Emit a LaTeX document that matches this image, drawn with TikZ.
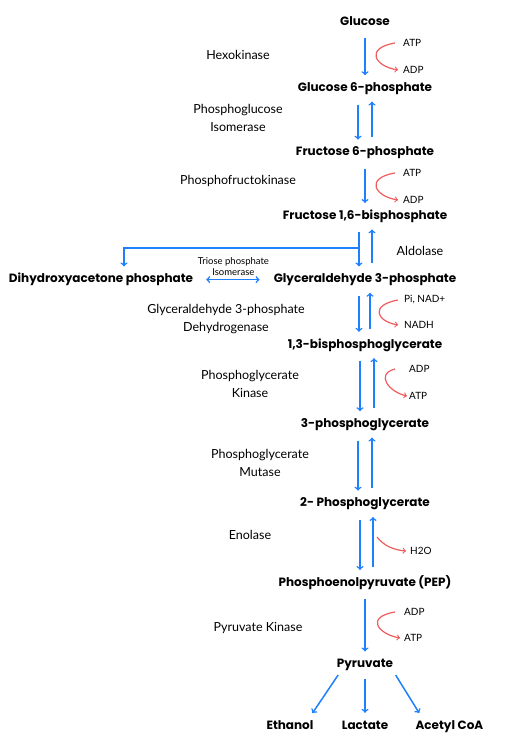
\documentclass[tikz,border=0pt]{standalone}
\usepackage{fontspec}
\setmainfont{Lato}
\newfontfamily\cmpdfont{Poppins}
\usepackage{xcolor}
\usetikzlibrary{positioning,arrows}

\definecolor{flowblue}{RGB}{30,128,255}
\definecolor{cofred}{RGB}{238,92,92}

\begin{document}
\begin{tikzpicture}[
    x=1pt, y=-1pt,
    cmpd/.style={inner sep=0pt, text height=9pt, text depth=3pt, font=\cmpdfont\bfseries\fontsize{12}{14}\selectfont},
    enz/.style={align=center, inner sep=0pt, font=\fontsize{12.5}{17.5}\selectfont},
    cof/.style={anchor=west, inner sep=0pt, font=\fontsize{10}{12}\selectfont},
    flow/.style={->, draw=flowblue, line width=1.5pt, shorten <=10pt, shorten >=7pt},
    cofarr/.style={->, draw=cofred, line width=1.2pt}
]
\useasboundingbox (0,0) rectangle (506,737);

% Main chain, top to bottom
\node[cmpd] (glucose) at (365,22) {Glucose};
\node[cmpd, below=54pt of glucose] (g6p) {Glucose 6-phosphate};
\node[cmpd, below=52pt of g6p] (f6p) {Fructose 6-phosphate};
\node[cmpd, below=51pt of f6p] (f16bp) {Fructose 1,6-bisphosphate};
\node[cmpd, below=51pt of f16bp] (g3p) {Glyceraldehyde 3-phosphate};
\node[cmpd, below=53pt of g3p] (bpg) {1,3-bisphosphoglycerate};
\node[cmpd, below=67pt of bpg] (pg3) {3-phosphoglycerate};
\node[cmpd, below=67pt of pg3] (pg2) {2- Phosphoglycerate};
\node[cmpd, below=67pt of pg2] (pep) {Phosphoenolpyruvate (PEP)};
\node[cmpd, below=69pt of pep] (pyr) {Pyruvate};
\node[cmpd, below=49pt of pyr] (lactate) {Lactate};
\node[cmpd, left=28pt of lactate] (ethanol) {Ethanol};
\node[cmpd, right=27pt of lactate] (acetyl) {Acetyl CoA};
\node[cmpd] (dhap) at ([xshift=-264pt]g3p) {Dihydroxyacetone phosphate};

% Enzymes
\node[enz] (hexo) at (238,55) {Hexokinase};
\node[enz] (pgi) at (238,118) {Phosphoglucose\\Isomerase};
\node[enz] (pfk) at (238,181) {Phosphofructokinase};
\node[enz] (aldo) at (420,251) {Aldolase};
\node[enz] (gapdh) at (226,319) {Glyceraldehyde 3-phosphate\\Dehydrogenase};
\node[enz] (pgk) at (250,384) {Phosphoglycerate\\Kinase};
\node[enz] (pgm) at (260,463) {Phosphoglycerate\\Mutase};
\node[enz] (eno) at (250,535) {Enolase};
\node[enz] (pk) at (258,628) {Pyruvate Kinase};

% Cofactors
\node[cof] (atpa) at (403,43) {ATP};
\node[cof] (adpa) at (403,70) {ADP};
\node[cof] (atpb) at (403,173) {ATP};
\node[cof] (adpb) at (403,200) {ADP};
\node[cof] (nad) at (404,300) {Pi, NAD+};
\node[cof] (nadh) at (404,325) {NADH};
\node[cof] (adpc) at (409,369) {ADP};
\node[cof] (atpc) at (409,396) {ATP};
\node[cof] (water) at (410,551) {H2O};
\node[cof] (adpd) at (404,612) {ADP};
\node[cof] (atpd) at (404,638) {ATP};

% Blue arrows
\draw[flow] (glucose) -- (g6p);
\draw[flow] ([xshift=-7pt]g6p.south) -- ([xshift=-7pt]f6p.north);
\draw[flow] ([xshift=7pt]f6p.north) -- ([xshift=7pt]g6p.south);
\draw[flow] (f6p) -- (f16bp);
\draw[flow] ([xshift=-6pt]f16bp.south) -- coordinate[pos=0.5] (split) ([xshift=-6pt]g3p.north);
\draw[flow] ([xshift=7pt]g3p.north) -- ([xshift=7pt]f16bp.south);
\draw[flow, shorten <=0pt] (split) -| ([xshift=23pt]dhap.north);
\draw[flow, <->, shorten <=13pt, shorten >=14pt] (dhap.east) -- node[above=3pt, align=center, inner sep=0pt, font=\fontsize{9.5}{11.5}\selectfont] (tpi) {Triose phosphate\\Isomerase} (g3p.west);
\draw[flow] ([xshift=-6pt]g3p.south) -- ([xshift=-6pt]bpg.north);
\draw[flow] ([xshift=5pt]bpg.north) -- ([xshift=5pt]g3p.south);
\draw[flow] ([xshift=-5pt]bpg.south) -- ([xshift=-5pt]pg3.north);
\draw[flow] ([xshift=9pt]pg3.north) -- ([xshift=9pt]bpg.south);
\draw[flow] ([xshift=-7pt]pg3.south) -- ([xshift=-7pt]pg2.north);
\draw[flow] ([xshift=7pt]pg2.north) -- ([xshift=7pt]pg3.south);
\draw[flow] ([xshift=-5pt]pg2.south) -- ([xshift=-5pt]pep.north);
\draw[flow] ([xshift=8pt]pep.north) -- ([xshift=8pt]pg2.south);
\draw[flow] (pep) -- (pyr);
\draw[flow, shorten <=5pt, shorten >=8pt] ([xshift=-24pt]pyr.south) -- ([xshift=18pt]ethanol.north);
\draw[flow, shorten <=8pt] (pyr) -- (lactate);
\draw[flow, shorten <=5pt, shorten >=8pt] ([xshift=28pt]pyr.south) -- ([xshift=-26pt]acetyl.north);

% Red cofactor arrows
\draw[cofarr] ([xshift=-8pt]atpa.west) .. controls +(-30,5) and +(-24,-4) .. ([xshift=-5pt]adpa.west);
\draw[cofarr] ([xshift=-8pt]atpb.west) .. controls +(-30,5) and +(-24,-4) .. ([xshift=-5pt]adpb.west);
\draw[cofarr] ([xshift=-6pt]nad.west) .. controls +(-28,5) and +(-22,-4) .. ([xshift=-6pt]nadh.west);
\draw[cofarr] ([xshift=-14pt]adpc.west) .. controls +(-20,5) and +(-18,-4) .. ([xshift=-2pt]atpc.west);
\draw[cofarr] (377,537) .. controls (384,546) and (394,550) .. ([xshift=-4pt]water.west);
\draw[cofarr] ([xshift=-9pt]adpd.west) .. controls +(-30,5) and +(-22,-4) .. ([xshift=-4pt]atpd.west);

\end{tikzpicture}
\end{document}
